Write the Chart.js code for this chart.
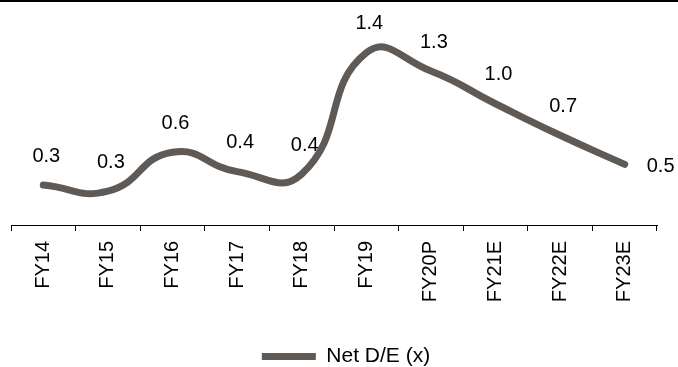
<!DOCTYPE html>
<html>
<head>
<meta charset="utf-8">
<script src="https://cdn.jsdelivr.net/npm/chart.js@4"></script>
<style>
  html, body { margin: 0; padding: 0; background: #fff; }
  #wrap { position: relative; width: 678px; height: 367px; }
  #wrap::before { content: ""; position: absolute; left: 0; top: 0; width: 678px; height: 2px; background: #000; }
  canvas { display: block; }
</style>
</head>
<body>
<div id="wrap"><canvas id="c" width="678" height="367"></canvas></div>
<script>
// Net debt-to-equity by fiscal year (actual, provisional and estimates)
const years = ['FY14', 'FY15', 'FY16', 'FY17', 'FY18', 'FY19', 'FY20P', 'FY21E', 'FY22E', 'FY23E'];
const netDebtToEquity = [0.33, 0.28, 0.60, 0.44, 0.42, 1.42, 1.27, 1.00, 0.74, 0.50];
const seriesName = 'Net D/E (x)';

const FONT = '"Liberation Sans", Arial, sans-serif';
const LINE = '#5f5a56';

// Value labels above each point; the last one sits to the right of its point
const valueLabels = {
  id: 'valueLabels',
  afterDatasetsDraw(chart) {
    const { ctx } = chart;
    const meta = chart.getDatasetMeta(0);
    const data = chart.data.datasets[0].data;
    ctx.save();
    ctx.font = '20px ' + FONT;
    ctx.fillStyle = '#000';
    ctx.textBaseline = 'middle';
    meta.data.forEach((pt, i) => {
      const txt = data[i].toFixed(1);
      if (i === data.length - 1) {
        ctx.textAlign = 'left';
        ctx.fillText(txt, pt.x + 22, pt.y + 2);
      } else {
        ctx.textAlign = 'center';
        ctx.fillText(txt, pt.x + 3, pt.y - 29);
      }
    });
    ctx.restore();
  }
};

// Nudge the legend block a little lower and to the right of the default spot
const legendNudge = {
  id: 'legendNudge',
  afterLayout(chart) {
    const lg = chart.legend;
    if (!lg) return;
    lg.left += 12; lg.right += 12;
    lg.top += 10; lg.bottom += 10;
  }
};

new Chart(document.getElementById('c'), {
  type: 'line',
  data: {
    labels: years,
    datasets: [{
      label: seriesName,
      data: netDebtToEquity,
      borderColor: LINE,
      backgroundColor: LINE,
      borderWidth: 7,
      borderCapStyle: 'round',
      borderJoinStyle: 'round',
      tension: 0.5,
      pointRadius: 0,
      pointHoverRadius: 0,
      pointStyle: 'line',
      fill: false
    }]
  },
  options: {
    responsive: false,
    animation: false,
    events: [],
    layout: { padding: { top: 31, left: 11, right: 21, bottom: 0 } },
    scales: {
      x: {
        offset: true,
        grid: { offset: true, drawOnChartArea: false, drawTicks: true, tickLength: 6, color: '#000', lineWidth: 1 },
        border: { display: true, color: '#000', width: 1 },
        ticks: {
          color: '#000',
          font: { family: FONT, size: 20 },
          minRotation: 90, maxRotation: 90,
          padding: 10,
          autoSkip: false
        },
        afterFit(axis) { axis.height = 109; }
      },
      y: {
        display: false,
        min: 0,
        max: 1.6
      }
    },
    plugins: {
      legend: {
        position: 'bottom',
        labels: {
          usePointStyle: true,
          pointStyleWidth: 54,
          boxHeight: 7,
          padding: 2,
          color: '#000',
          font: { family: FONT, size: 21 }
        }
      },
      tooltip: { enabled: false }
    }
  },
  plugins: [valueLabels, legendNudge]
});
</script>
</body>
</html>
